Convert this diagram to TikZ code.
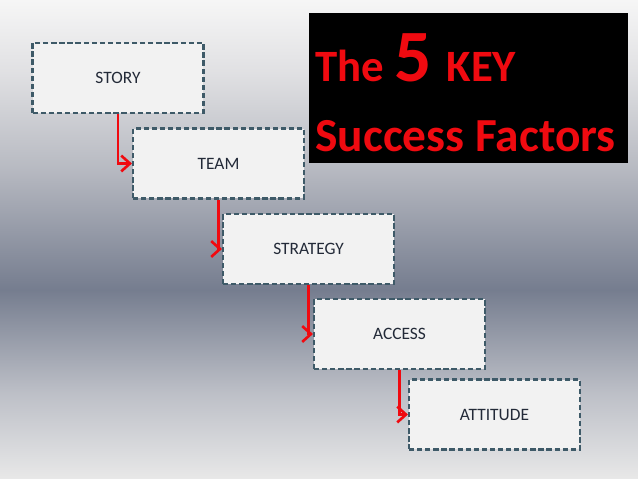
\documentclass[tikz,border=0pt]{standalone}
\usepackage{fontspec}
\setmainfont{Carlito}
\usepackage{xcolor}
\usetikzlibrary{arrows.meta}

\definecolor{boxfill}{RGB}{242,242,242}
\definecolor{boxline}{RGB}{62,90,104}
\definecolor{boxtext}{RGB}{35,42,56}
\definecolor{keyred}{RGB}{240,10,16}

% background: light at top and bottom, darkest a little below the middle
% (the path covers 25bp to 75bp of the shading)
\pgfdeclareverticalshading{slidebg}{100bp}{%
    rgb(0bp)=(0.91,0.91,0.91);
    rgb(25bp)=(0.91,0.91,0.91);
    rgb(34bp)=(0.74,0.75,0.78);
    rgb(44.75bp)=(0.46,0.49,0.56);
    rgb(57.5bp)=(0.72,0.73,0.76);
    rgb(67.5bp)=(0.88,0.88,0.89);
    rgb(75bp)=(0.965,0.965,0.965);
    rgb(100bp)=(0.965,0.965,0.965)}

\tikzset{
    factor/.style={draw=boxline, fill=boxfill, line width=1.2pt,
        dash pattern=on 3pt off 1.6pt, minimum width=3.42cm,
        minimum height=1.4cm, text=boxtext,
        font=\fontsize{9.9}{11}\selectfont},
    link/.style={draw=keyred, line width=1.5pt,
        -{Straight Barb[length=5pt,width=9pt,line width=1.5pt]}}
}

\begin{document}
\begin{tikzpicture}[x=0.02cm, y=-0.02cm]
            % background
            \useasboundingbox (0,0) rectangle (638,479);
            \shade[shading=slidebg] (0,0) rectangle (638,479);

            % title
            \fill[black] (309,13) rectangle (628,163);
            \node[anchor=base west, inner sep=0pt, text=keyred, font=\bfseries] (title1) at (315,82)
                {\fontsize{25.5}{30}\selectfont The \fontsize{42}{48}\selectfont 5\hspace{-1pt} \fontsize{25.5}{30}\selectfont KEY};
            \node[anchor=base west, inner sep=0pt, text=keyred, font=\bfseries\fontsize{27}{30}\selectfont] (title2) at (315,152) {Success Factors};

            % steps
            \node[factor] (story) at (118,78) {STORY};
            \node[factor] (team) at (218.5,163.5) {TEAM};
            \node[factor] (strategy) at (308.5,249) {STRATEGY};
            \node[factor] (access) at (399.5,334) {ACCESS};
            \node[factor] (attitude) at (494.5,414.5) {ATTITUDE};

            \draw[link] (story.south) |- (team.west);
            \draw[link] (team.south) |- (strategy.west);
            \draw[link] (strategy.south) |- (access.west);
            \draw[link] (access.south) |- (attitude.west);
        \end{tikzpicture}
\end{document}
